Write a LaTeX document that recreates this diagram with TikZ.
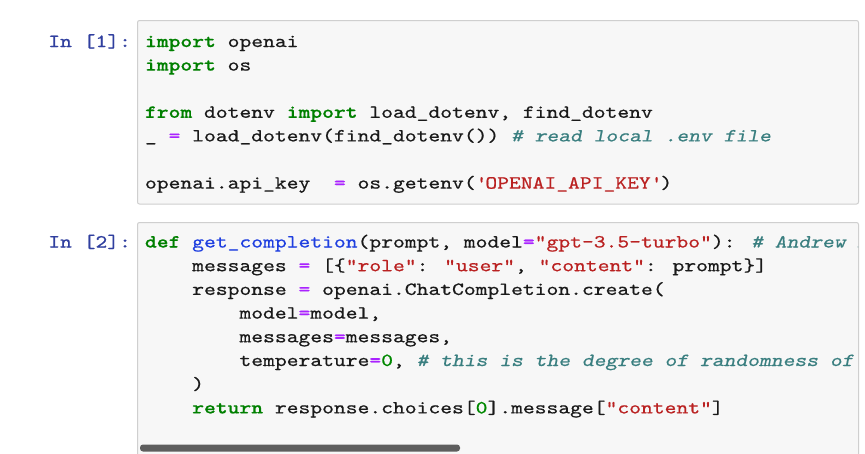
\documentclass[tikz,border=0pt]{standalone}
\usepackage{fontspec}
\newfontfamily\codefont{lmmono10-regular.otf}[FakeStretch=1.216, FakeBold=0.6, BoldFont=lmmonolt10-bold.otf, ItalicFont=lmmonoslant10-regular.otf]
\definecolor{kwc}{HTML}{008000}
\definecolor{opc}{HTML}{AA22FF}
\definecolor{stc}{HTML}{BA2121}
\definecolor{cmc}{HTML}{3A7F80}
\definecolor{nuc}{HTML}{008800}
\definecolor{fnc}{HTML}{1F3FE0}
\definecolor{prc}{HTML}{303F9F}
\definecolor{txc}{HTML}{1A1A1A}
\definecolor{cellbg}{HTML}{F7F7F7}
\definecolor{cellbd}{HTML}{CFCFCF}
\definecolor{barc}{HTML}{5E5E5E}
\newcommand\Ckw[1]{{\bfseries\color{kwc}#1}}
\newcommand\Cop[1]{{\bfseries\color{opc}#1}}
\newcommand\Cst[1]{{\color{stc}#1}}
\newcommand\Ccm[1]{{\itshape\color{cmc}#1}}
\newcommand\Cnu[1]{{\color{nuc}#1}}
\newcommand\Cfn[1]{{\color{fnc}#1}}
\tikzset{
  codeline/.style={anchor=base west, inner sep=0pt, outer sep=0pt, text=txc, font=\codefont\fontsize{18.5}{20}\selectfont},
  promptline/.style={codeline, text=prc},
  cellbox/.style={draw=cellbd, fill=cellbg, line width=1pt, rounded corners=2pt},
  scrollbar/.style={fill=barc, rounded corners=3pt}
}
\begin{document}
\begin{tikzpicture}[x=1pt,y=-1pt]
\useasboundingbox (0,0) rectangle (865,453);
\fill[white] (0,0) rectangle (865,453);
% cell 1
\draw[cellbox] (137.5,20.5) rectangle (858.5,204);
\node[promptline] (p1) at (48.3,47) {In [1]:};
\node[codeline] (a1) at (145,47) {\Ckw{import} openai};
\node[codeline] (a2) at (145,70.6) {\Ckw{import} os};
\node[codeline] (a4) at (145,117.8) {\Ckw{from} dotenv \Ckw{import} load\_dotenv, find\_dotenv};
\node[codeline] (a5) at (145,141.4) {\_ \Cop{=} load\_dotenv(find\_dotenv()) \Ccm{\# read local .env file}};
\node[codeline] (a7) at (145,188.6) {openai.api\_key~~\Cop{=} os.getenv(\Cst{\textquotesingle OPENAI\_API\_KEY\textquotesingle})};
% cell 2
\draw[cellbox] (137.5,222.5) rectangle (858.5,470);
\node[promptline] (p2) at (48.3,247.5) {In [2]:};
\begin{scope}
\clip (138,223) rectangle (858,460);
\node[codeline] (b1) at (145,247.5) {\Ckw{def} \Cfn{get\_completion}(prompt, model\Cop{=}\Cst{"gpt-3.5-turbo"}): \Ccm{\# Andrew mentioned that the prompt/ completion paradigm is preferable}};
\node[codeline] (b2) at (192.24,271.2) {messages \Cop{=} [\{\Cst{"role"}: \Cst{"user"}, \Cst{"content"}: prompt\}]};
\node[codeline] (b3) at (192.24,294.9) {response \Cop{=} openai.ChatCompletion.create(};
\node[codeline] (b4) at (239.48,318.6) {model\Cop{=}model,};
\node[codeline] (b5) at (239.48,342.3) {messages\Cop{=}messages,};
\node[codeline] (b6) at (239.48,366.0) {temperature\Cop{=}\Cnu{0}, \Ccm{\# this is the degree of randomness of the model output}};
\node[codeline] (b7) at (192.24,389.7) {)};
\node[codeline] (b8) at (192.24,413.4) {\Ckw{return} response.choices[\Cnu{0}].message[\Cst{"content"}]};
\end{scope}
\fill[scrollbar] (140,444.5) rectangle (460,451.5);
\end{tikzpicture}
\end{document}
